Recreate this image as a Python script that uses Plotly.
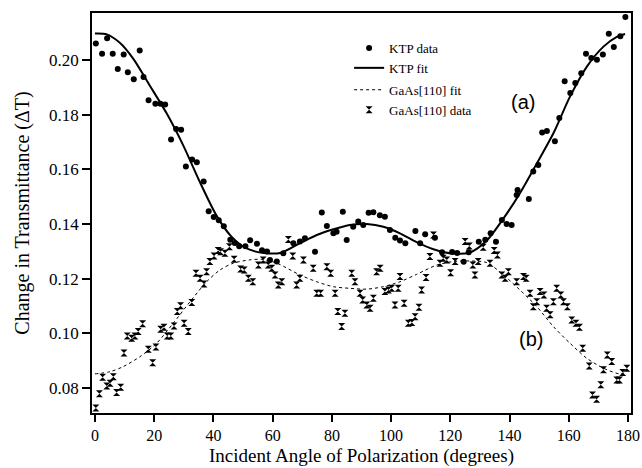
import plotly.graph_objects as go

# KTP measured data (angle in degrees, change in transmittance)
ktp_angle = [0.3, 2.4, 4.1, 6.0, 7.7, 9.7, 11.1, 13.1, 15.1, 16.4, 18.1, 20.4, 22.1, 23.7,
             25.7, 27.4, 29.1, 30.7, 32.8, 34.4, 36.7, 38.4, 40.1, 41.8, 43.5, 45.7, 47.2,
             48.7, 50.8, 52.4, 54.7, 56.4, 58.1, 59.1, 61.4, 63.6, 67.0, 69.2, 70.9, 74.3,
             76.6, 78.3, 80.5, 81.6, 83.7, 85.0, 87.2, 88.9, 90.6, 92.4, 94.0, 96.2, 97.9,
             99.6, 101.4, 103.0, 104.8, 108.2, 109.8, 111.5, 114.8, 117.2, 120.6, 122.3,
             124.5, 126.2, 129.6, 131.8, 133.6, 135.4, 137.4, 139.0, 140.7, 142.4, 142.7,
             146.5, 148.0, 149.7, 151.0, 152.6, 155.3, 156.8, 158.6, 160.5, 162.2, 164.2,
             165.8, 167.6, 169.5, 171.5, 173.5, 175.2, 177.4, 179.1]
ktp_value = [0.2060, 0.2023, 0.2080, 0.2023, 0.1967, 0.2020, 0.1955, 0.1930, 0.2035, 0.1938,
             0.1853, 0.1840, 0.1840, 0.1837, 0.1709, 0.1748, 0.1745, 0.1611, 0.1636, 0.1626,
             0.1556, 0.1447, 0.1426, 0.1414, 0.1392, 0.1343, 0.1331, 0.1319, 0.1319, 0.1341,
             0.1328, 0.1304, 0.1300, 0.1269, 0.1263, 0.1293, 0.1330, 0.1336, 0.1348, 0.1299,
             0.1442, 0.1393, 0.1366, 0.1372, 0.1445, 0.1342, 0.1390, 0.1409, 0.1397, 0.1441,
             0.1443, 0.1432, 0.1427, 0.1378, 0.1350, 0.1340, 0.1330, 0.1375, 0.1330, 0.1363,
             0.1350, 0.1297, 0.1298, 0.1294, 0.1262, 0.1297, 0.1335, 0.1343, 0.1366, 0.1335,
             0.1415, 0.1400, 0.1397, 0.1506, 0.1525, 0.1492, 0.1592, 0.1616, 0.1735, 0.1740,
             0.1703, 0.1788, 0.1922, 0.1879, 0.1916, 0.1952, 0.2023, 0.2007, 0.2001, 0.2020,
             0.2096, 0.2048, 0.2087, 0.2157]

# KTP fit curve
ktp_fit_angle = [0, 4, 8.4, 12.9, 18.6, 24.2, 29.8, 35.5, 41.1, 46, 50, 54, 57, 62.5, 69.2,
                 74.9, 80.5, 86.1, 91.8, 97.4, 103.0, 108.6, 114.3, 121.0, 126.6, 132.3,
                 137.9, 143.5, 149.2, 154.8, 160.4, 166.1, 171.7, 176.2, 179.0]
ktp_fit_value = [0.2097, 0.2094, 0.2063, 0.2005, 0.1905, 0.1805, 0.1688, 0.1552, 0.1430,
                 0.1355, 0.1318, 0.1300, 0.1294, 0.1294, 0.1330, 0.1360, 0.1381, 0.1397,
                 0.1400, 0.1390, 0.1366, 0.1334, 0.1308, 0.1292, 0.1296, 0.1340, 0.1420,
                 0.1513, 0.1622, 0.1732, 0.1866, 0.1976, 0.2049, 0.2085, 0.2095]

# GaAs[110] measured data
gaas_angle = [0.3, 1.5, 2.6, 4.0, 5.1, 6.2, 7.3, 8.7, 9.8, 10.9, 12.4, 13.5, 14.6, 16.1, 18.0,
              19.5, 20.6, 22.2, 23.3, 24.4, 25.6, 26.7, 27.8, 28.9, 30.1, 31.5, 32.7, 34.1,
              35.5, 36.8, 37.7, 38.8, 40.2, 41.6, 42.4, 43.9, 45.4, 47.0, 49.2, 50.4, 51.8,
              53.3, 55.2, 56.8, 58.5, 59.7, 60.8, 61.9, 63.1, 65.3, 66.8, 68.1, 69.2, 70.4,
              73.7, 74.9, 76.2, 78.3, 79.6, 81.1, 82.0, 83.3, 84.4, 86.7, 87.8, 89.5, 90.4,
              91.8, 92.9, 94.0, 95.1, 96.3, 97.9, 99.1, 100.2, 101.3, 102.4, 103.0, 104.4,
              105.8, 107.0, 108.1, 109.4, 110.3, 111.8, 113.1, 114.3, 116.5, 117.6, 118.8,
              120.1, 121.6, 125.0, 126.4, 127.6, 128.3, 129.4, 131.1, 133.4, 134.8, 135.9,
              137.4, 138.5, 139.6, 142.4, 144.7, 145.6, 146.9, 148.0, 149.2, 150.3, 151.6,
              152.5, 153.7, 154.8, 155.9, 157.3, 158.2, 159.5, 161.0, 162.4, 163.6, 164.7,
              166.9, 168.0, 169.4, 170.8, 171.7, 173.0, 174.5, 176.2, 177.1, 178.2, 179.6]
gaas_value = [0.0727, 0.0779, 0.0840, 0.0808, 0.0818, 0.0842, 0.0784, 0.0803, 0.0928, 0.0991,
              0.0982, 0.0991, 0.1007, 0.1035, 0.0942, 0.0893, 0.0950, 0.1015, 0.1023, 0.0991,
              0.0991, 0.1027, 0.1080, 0.1101, 0.1037, 0.1007, 0.1113, 0.1220, 0.1202, 0.1181,
              0.1226, 0.1263, 0.1283, 0.1303, 0.1299, 0.1293, 0.1317, 0.1271, 0.1236, 0.1232,
              0.1202, 0.1189, 0.1250, 0.1269, 0.1250, 0.1238, 0.1214, 0.1177, 0.1189, 0.1344,
              0.1283, 0.1177, 0.1202, 0.1269, 0.1238, 0.1147, 0.1147, 0.1244, 0.1220, 0.1147,
              0.1080, 0.1025, 0.1074, 0.1220, 0.1189, 0.1147, 0.1122, 0.1104, 0.1092, 0.1129,
              0.1226, 0.1238, 0.1153, 0.1159, 0.1165, 0.1104, 0.1165, 0.1208, 0.1110, 0.1037,
              0.1040, 0.1061, 0.1096, 0.1159, 0.1205, 0.1281, 0.1360, 0.1257, 0.1275, 0.1269,
              0.1222, 0.1263, 0.1336, 0.1320, 0.1250, 0.1214, 0.1263, 0.1315, 0.1257, 0.1303,
              0.1287, 0.1214, 0.1202, 0.1226, 0.1189, 0.1208, 0.1202, 0.1147, 0.1098, 0.1116,
              0.1153, 0.1141, 0.1092, 0.1068, 0.1116, 0.1165, 0.1141, 0.1116, 0.1098, 0.1049,
              0.1037, 0.1023, 0.0946, 0.0881, 0.0775, 0.0759, 0.0812, 0.0867, 0.0921, 0.0897,
              0.0830, 0.0830, 0.0857, 0.0873]

# GaAs[110] fit curve
gaas_fit_angle = [0, 5.1, 9.6, 15.2, 20.8, 26.4, 32.1, 37.7, 42.2, 46.7, 52.3, 56.3, 61.4,
                  69.2, 74.9, 80.5, 86.1, 91.8, 97.4, 103.0, 108.6, 115.4, 121.0, 126.6,
                  132.3, 137.9, 143.5, 149.2, 154.8, 160.4, 166.1, 171.7, 177.3, 179.6]
gaas_fit_value = [0.0852, 0.0860, 0.0879, 0.0915, 0.0964, 0.1037, 0.1116, 0.1189, 0.1232,
                  0.1257, 0.1269, 0.1271, 0.1257, 0.1214, 0.1189, 0.1171, 0.1165, 0.1162,
                  0.1171, 0.1189, 0.1216, 0.1250, 0.1263, 0.1265, 0.1259, 0.1214, 0.1159,
                  0.1098, 0.1025, 0.0964, 0.0909, 0.0873, 0.0852, 0.0860]

x_ticks = [0, 20, 40, 60, 80, 100, 120, 140, 160, 180]
y_ticks = [0.08, 0.10, 0.12, 0.14, 0.16, 0.18, 0.20]

SERIF = "Liberation Serif, Times New Roman, serif"
SANS = "Liberation Sans, Arial, sans-serif"

fig = go.Figure()
fig.add_trace(go.Scatter(x=ktp_angle, y=ktp_value, mode="markers", name="KTP data",
                         legendgroup="ktp",
                         marker=dict(symbol="circle", size=6, color="black")))
fig.add_trace(go.Scatter(x=ktp_fit_angle, y=ktp_fit_value, mode="lines", name="KTP fit",
                         legendgroup="ktp",
                         line=dict(color="black", width=2, shape="spline", smoothing=0.8)))
fig.add_trace(go.Scatter(x=gaas_fit_angle, y=gaas_fit_value, mode="lines", name="GaAs[110] fit",
                         legendgroup="gaas",
                         line=dict(color="black", width=1, dash="dot", shape="spline", smoothing=0.8)))
fig.add_trace(go.Scatter(x=gaas_angle, y=gaas_value, mode="markers", name="GaAs[110] data",
                         legendgroup="gaas",
                         marker=dict(symbol="hourglass", size=7, color="black")))

fig.add_annotation(x=0.7996, y=0.7775, xref="paper", yref="paper", text="(a)",
                   xanchor="center", yanchor="middle",
                   showarrow=False, font=dict(family=SANS, size=20, color="black"))
fig.add_annotation(x=0.8145, y=0.185, xref="paper", yref="paper", text="(b)",
                   xanchor="center", yanchor="middle",
                   showarrow=False, font=dict(family=SANS, size=20, color="black"))

fig.update_layout(
    width=642, height=468,
    margin=dict(l=92, r=11, t=13, b=55, autoexpand=False),
    paper_bgcolor="white", plot_bgcolor="white",
    font=dict(family=SERIF, color="black", size=16),
    showlegend=True,
    legend=dict(x=0.477, y=0.95, xanchor="left", yanchor="top",
                bgcolor="rgba(0,0,0,0)", borderwidth=0,
                font=dict(family=SERIF, size=13, color="black"),
                traceorder="grouped", tracegroupgap=2),
    xaxis=dict(range=[-1.0, 181.0], tickvals=x_ticks, ticks="outside", ticklen=7,
               tickwidth=1.5, tickcolor="black", showline=True, linewidth=1.5,
               linecolor="black", mirror=True, showgrid=False, zeroline=False,
               automargin=False, tickfont=dict(size=16),
               title=dict(text="Incident Angle of Polarization (degrees)",
                          font=dict(size=19), standoff=6)),
    yaxis=dict(range=[0.0709, 0.2172], tickvals=y_ticks, tickformat=".2f",
               ticks="outside", ticklen=8, tickwidth=1.5, tickcolor="black",
               showline=True, linewidth=1.5, linecolor="black", mirror=True,
               showgrid=False, zeroline=False, automargin=False, tickfont=dict(size=17),
               title=dict(text="Change in Transmittance (ΔT)", font=dict(size=20),
                          standoff=14)),
)

# Remove the default page margin so the 642x468 figure fills the window exactly.
fig.write_html("out.html",
               config={"displayModeBar": False},
               post_script="document.body.style.margin='0';"
                           "document.body.style.overflow='hidden';")
